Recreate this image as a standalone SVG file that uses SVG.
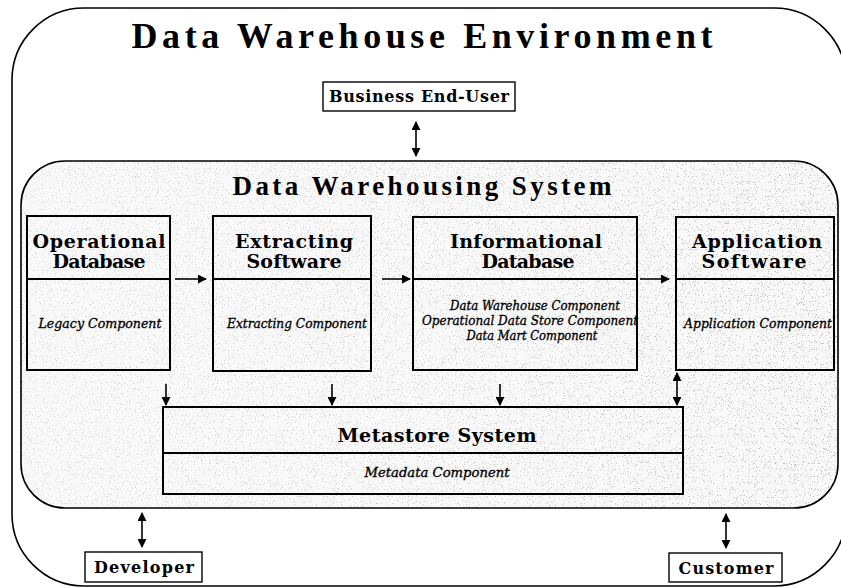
<svg xmlns="http://www.w3.org/2000/svg" width="841" height="587" viewBox="0 0 841 587">
  <defs>
    <style>
      .frame { fill: none; stroke: #000; stroke-width: 1.6; }
      .box { fill: none; stroke: #000; stroke-width: 2; }
      .div { stroke: #000; stroke-width: 2; }
      .actor { fill: #fff; stroke: #000; stroke-width: 1.4; }
      .title { font-family: "Liberation Serif", "Times New Roman", serif; font-weight: bold; fill: #000; }
      .head { font-family: "DejaVu Serif", "Liberation Serif", serif; font-weight: bold; font-size: 19px; fill: #000; text-anchor: middle; }
      .comp { font-family: "DejaVu Serif", "Liberation Serif", serif; font-style: italic; font-size: 13px; fill: #000; stroke: #000; stroke-width: 0.35; text-anchor: middle; }
      .lbl { font-family: "DejaVu Serif", "Liberation Serif", serif; font-weight: bold; font-size: 16px; fill: #000; text-anchor: middle; }
      .arr { fill: none; stroke: #000; stroke-width: 1.6; }
    </style>
    <marker id="head" viewBox="0 0 10 10" refX="9" refY="5" markerWidth="9" markerHeight="9" markerUnits="userSpaceOnUse" orient="auto-start-reverse">
      <path d="M0,0 L10,5 L0,10 Z" fill="#000"/>
    </marker>
    <!-- speckled grain for the system panel -->
    <filter id="grain" x="0" y="0" width="100%" height="100%">
      <feTurbulence type="fractalNoise" baseFrequency="0.85" numOctaves="2" seed="7" result="noise"/>
      <feColorMatrix in="noise" type="matrix" values="0 0 0 0 0.3  0 0 0 0 0.3  0 0 0 0 0.3  -12 0 0 0 4.3" result="dots"/>
      <feComposite in="dots" in2="SourceGraphic" operator="in"/>
    </filter>
    <!-- grain gets denser towards the right -->
    <linearGradient id="fade" x1="0" y1="0" x2="1" y2="0">
      <stop offset="0" stop-color="#fff" stop-opacity="0.45"/>
      <stop offset="0.6" stop-color="#fff" stop-opacity="0.7"/>
      <stop offset="1" stop-color="#fff" stop-opacity="1"/>
    </linearGradient>
    <mask id="grainMask" maskUnits="userSpaceOnUse" x="0" y="0" width="841" height="587">
      <rect x="21" y="161" width="817" height="347" fill="url(#fade)"/>
    </mask>
  </defs>

  <!-- environment frame -->
  <g id="environment">
    <rect x="12" y="8" width="834" height="578" rx="72" ry="72" class="frame"/>
    <text class="title" x="422" y="48" font-size="36" text-anchor="middle" textLength="581" lengthAdjust="spacing">Data Warehouse Environment</text>
  </g>

  <!-- warehousing system panel -->
  <g id="system">
    <rect x="21" y="161" width="817" height="347" rx="44" ry="44" fill="#f8f8f8"/>
    <rect x="21" y="161" width="817" height="347" rx="44" ry="44" fill="#000" filter="url(#grain)" mask="url(#grainMask)" opacity="0.6"/>
    <rect x="21" y="161" width="817" height="347" rx="44" ry="44" class="frame"/>
    <text class="title" x="422" y="195" font-size="27" text-anchor="middle" textLength="379" lengthAdjust="spacing">Data Warehousing System</text>
  </g>

  <g id="operational-db">
    <rect x="27" y="216" width="143" height="154" class="box"/>
    <line x1="27" y1="279" x2="170" y2="279" class="div"/>
    <text class="head" x="99" y="248" textLength="133">Operational</text>
    <text class="head" x="99" y="268" textLength="93">Database</text>
    <text class="comp" x="100" y="328" textLength="123" lengthAdjust="spacingAndGlyphs">Legacy Component</text>
  </g>

  <g id="extracting-sw">
    <rect x="213" y="216" width="158" height="155" class="box"/>
    <line x1="213" y1="279" x2="371" y2="279" class="div"/>
    <text class="head" x="294" y="248" textLength="118">Extracting</text>
    <text class="head" x="294" y="268" textLength="95">Software</text>
    <text class="comp" x="297" y="328" textLength="140" lengthAdjust="spacingAndGlyphs">Extracting Component</text>
  </g>

  <g id="informational-db">
    <rect x="413" y="217" width="224" height="153" class="box"/>
    <line x1="413" y1="279" x2="637" y2="279" class="div"/>
    <text class="head" x="526" y="248" textLength="152">Informational</text>
    <text class="head" x="528" y="268" textLength="93">Database</text>
    <text class="comp" x="535" y="310" textLength="170" lengthAdjust="spacingAndGlyphs">Data Warehouse Component</text>
    <text class="comp" x="530" y="325" textLength="216" lengthAdjust="spacingAndGlyphs">Operational Data Store Component</text>
    <text class="comp" x="532" y="340" textLength="131" lengthAdjust="spacingAndGlyphs">Data Mart Component</text>
  </g>

  <g id="application-sw">
    <rect x="676" y="217" width="158" height="153" class="box"/>
    <line x1="676" y1="279" x2="834" y2="279" class="div"/>
    <text class="head" x="757" y="248" textLength="130">Application</text>
    <text class="head" x="754" y="268" textLength="105">Software</text>
    <text class="comp" x="758" y="328" textLength="148" lengthAdjust="spacingAndGlyphs">Application Component</text>
  </g>

  <g id="metastore">
    <rect x="163" y="407" width="520" height="87" class="box"/>
    <line x1="163" y1="453" x2="683" y2="453" class="div"/>
    <text class="head" x="437" y="442" font-size="20" textLength="199">Metastore System</text>
    <text class="comp" x="437" y="477" textLength="145" lengthAdjust="spacingAndGlyphs">Metadata Component</text>
  </g>

  <g id="business-user">
    <rect x="323" y="82" width="192" height="29" class="actor"/>
    <text class="lbl" x="419" y="102" textLength="180">Business End-User</text>
  </g>

  <g id="developer">
    <rect x="85" y="552" width="117" height="30" class="actor"/>
    <text class="lbl" x="144" y="573" font-size="17" textLength="100">Developer</text>
  </g>

  <g id="customer">
    <rect x="669" y="553" width="113" height="29" class="actor"/>
    <text class="lbl" x="726" y="574" font-size="17" textLength="95">Customer</text>
  </g>

  <!-- connectors -->
  <g id="connectors">
    <line x1="175" y1="279" x2="206" y2="279" class="arr" marker-end="url(#head)"/>
    <line x1="382" y1="279" x2="410" y2="279" class="arr" marker-end="url(#head)"/>
    <line x1="640" y1="279" x2="669" y2="279" class="arr" marker-end="url(#head)"/>
    <line x1="166" y1="384" x2="166" y2="405" class="arr" marker-end="url(#head)"/>
    <line x1="332" y1="384" x2="332" y2="405" class="arr" marker-end="url(#head)"/>
    <line x1="500" y1="384" x2="500" y2="405" class="arr" marker-end="url(#head)"/>
    <line x1="677" y1="373" x2="677" y2="405" class="arr" marker-start="url(#head)" marker-end="url(#head)"/>
    <line x1="416" y1="122" x2="416" y2="156" class="arr" marker-start="url(#head)" marker-end="url(#head)"/>
    <line x1="142" y1="513" x2="142" y2="547" class="arr" marker-start="url(#head)" marker-end="url(#head)"/>
    <line x1="726" y1="514" x2="726" y2="548" class="arr" marker-start="url(#head)" marker-end="url(#head)"/>
  </g>
</svg>
